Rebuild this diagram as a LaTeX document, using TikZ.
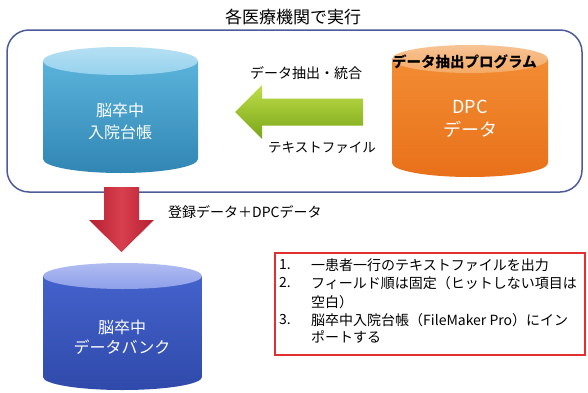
\documentclass[tikz,border=0pt]{standalone}
\usepackage{fontspec}
\setmainfont{Noto Sans CJK JP}
\definecolor{frameblue}{HTML}{4D5B99}
\definecolor{boxred}{HTML}{E03030}
\definecolor{cbbodyT}{HTML}{5AB3DB}
\definecolor{cbbodyB}{HTML}{3186B3}
\definecolor{cbtop}{HTML}{96D2EE}
\definecolor{cobodyT}{HTML}{F28C33}
\definecolor{cobodyB}{HTML}{E8711A}
\definecolor{cotop}{HTML}{F4AA66}
\definecolor{cdbodyT}{HTML}{4462CC}
\definecolor{cdbodyB}{HTML}{2F4AAA}
\definecolor{cdtop}{HTML}{8E9FEA}
\definecolor{greenT}{HTML}{C0DD4A}
\definecolor{greenB}{HTML}{78A617}
\definecolor{redE}{HTML}{B51F30}
\definecolor{redM}{HTML}{D8404F}
\newcommand{\mycyl}[8]{%
  \shade[top color=#6,bottom color=#7] (#1-#4,#2) -- (#1-#4,#3) arc[start angle=180,end angle=360,x radius=#4,y radius=#5] -- (#1+#4,#2) -- cycle;
  \shade[top color=#8!70!white,bottom color=#8] (#1,#2) ellipse[x radius=#4,y radius=#5];
}
\begin{document}
\begin{tikzpicture}[x=1pt,y=1pt,
  cyltext/.style={text=white,align=center,inner sep=0pt},
  lbl/.style={text=black,inner sep=0pt},
  listnum/.style={text=black,inner sep=0pt,anchor=west,font=\fontsize{14}{16}\selectfont},
]
\useasboundingbox (0,0) rectangle (588,392);
\fill[white] (0,0) rectangle (588,392);

% title
\node[lbl,font=\fontsize{17}{20}\selectfont] (title) at (293,375) {各医療機関で実行};

% frame
\draw[frameblue,line width=1.5pt,rounded corners=22pt] (7,200) rectangle (582,362);
\coordinate (frame) at (294,281);

% blue cylinder
\mycyl{120.5}{331}{233}{77.5}{14}{cbbodyT}{cbbodyB}{cbtop}
\node[cyltext,font=\fontsize{16}{22}\selectfont] (ledger) at (120,271) {脳卒中\\入院台帳};

% orange cylinder
\mycyl{470}{333}{229}{78}{14}{cobodyT}{cobodyB}{cotop}
\node[lbl,font=\bfseries\fontsize{14.5}{16}\selectfont] (prog) at (464.5,330) {データ抽出プログラム};
\node[cyltext,font=\fontsize{18}{23}\selectfont] (dpc) at (470,273) {DPC\\データ};

% green arrow
\shade[top color=greenT,bottom color=greenB]
  (363,293.5) -- (262,293.5) -- (262,307) -- (235,280) -- (262,253) -- (262,266.5) -- (363,266.5) -- cycle;
\node[lbl,font=\fontsize{14}{16}\selectfont] (extract) at (306,319) {データ抽出・統合};
\node[lbl,font=\fontsize{13.5}{16}\selectfont] (textfile) at (322,244) {テキストファイル};

% red arrow
\shade[left color=redE,right color=redE,middle color=redM]
  (104,205) -- (104,172) -- (89,172) -- (121.5,140) -- (154,172) -- (139,172) -- (139,205) -- cycle;
\node[lbl,anchor=west,font=\fontsize{14}{16}\selectfont] (reg) at (168,180) {登録データ＋DPCデータ};

% dark blue cylinder
\mycyl{122.5}{116}{15}{79.5}{13}{cdbodyT}{cdbodyB}{cdtop}
\node[cyltext,font=\fontsize{16}{20}\selectfont] (bank) at (122,55) {脳卒中\\データバンク};

% red box
\draw[draw=boxred,line width=1.2pt] (275,37) rectangle (585,139);
\node[listnum] (n1) at (279,127) {1.};
\node[listnum] (t1) at (311,127) {一患者一行のテキストファイルを出力};
\node[listnum] (n2) at (279,109) {2.};
\node[listnum] (t2) at (311,109) {フィールド順は固定（ヒットしない項目は};
\node[listnum] (t2b) at (311,90) {空白）};
\node[listnum] (n3) at (279,72) {3.};
\node[listnum] (t3) at (311,72) {脳卒中入院台帳（FileMaker Pro）にイン};
\node[listnum] (t3b) at (311,55) {ポートする};
\end{tikzpicture}
\end{document}
